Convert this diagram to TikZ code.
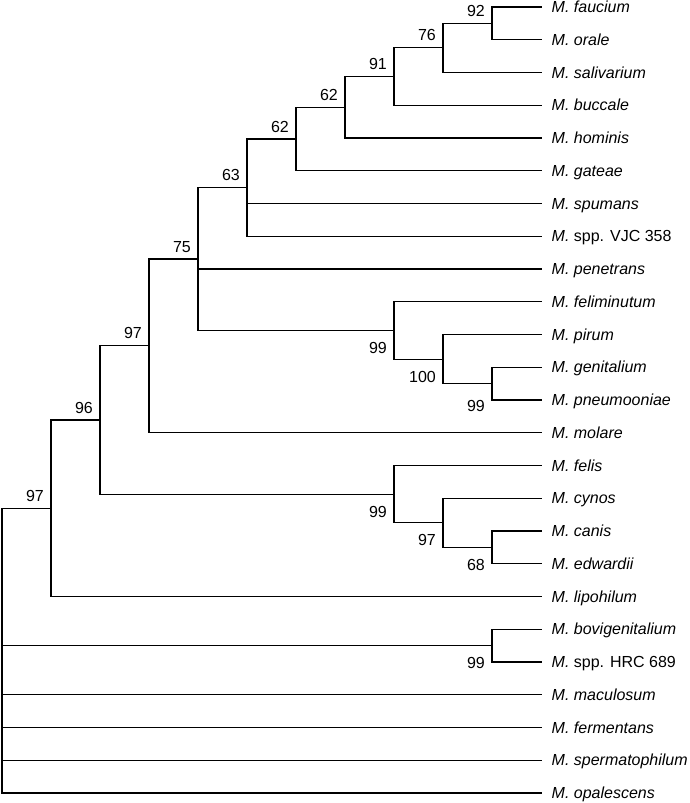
\documentclass[tikz,border=0pt]{standalone}
\usepackage{fontspec}
\setmainfont{Liberation Sans}
\begin{document}
\begin{tikzpicture}[x=1pt,y=-1pt,
  branch/.style={draw=black,line width=1.1pt,line cap=rect},
  leaflab/.style={anchor=base west,inner sep=0pt,xshift=10.5pt,yshift=-5.6pt,font=\fontsize{16}{19}\selectfont},
  supt/.style={anchor=base east,inner sep=0pt,xshift=-7pt,yshift=7pt,font=\fontsize{16}{19}\selectfont},
  subt/.style={anchor=base east,inner sep=0pt,xshift=-7pt,yshift=-23pt,font=\fontsize{16}{19}\selectfont}]
\useasboundingbox (0,0) rectangle (689,803);
% leaf ends
\coordinate (l0) at (541,7);
\coordinate (l1) at (541,39.75);
\coordinate (l2) at (541,72.5);
\coordinate (l3) at (541,105.25);
\coordinate (l4) at (541,138);
\coordinate (l5) at (541,170.75);
\coordinate (l6) at (541,203.5);
\coordinate (l7) at (541,236.25);
\coordinate (l8) at (541,269);
\coordinate (l9) at (541,301.75);
\coordinate (l10) at (541,334.5);
\coordinate (l11) at (541,367.25);
\coordinate (l12) at (541,400);
\coordinate (l13) at (541,432.75);
\coordinate (l14) at (541,465.5);
\coordinate (l15) at (541,498.25);
\coordinate (l16) at (541,531);
\coordinate (l17) at (541,563.75);
\coordinate (l18) at (541,596.5);
\coordinate (l19) at (541,629.25);
\coordinate (l20) at (541,662);
\coordinate (l21) at (541,694.75);
\coordinate (l22) at (541,727.5);
\coordinate (l23) at (541,760.25);
\coordinate (l24) at (541,793);
% leaf labels
\node[leaflab] (t0) at (l0) {\textit{M. faucium}};
\node[leaflab] (t1) at (l1) {\textit{M. orale}};
\node[leaflab] (t2) at (l2) {\textit{M. salivarium}};
\node[leaflab] (t3) at (l3) {\textit{M. buccale}};
\node[leaflab] (t4) at (l4) {\textit{M. hominis}};
\node[leaflab] (t5) at (l5) {\textit{M. gateae}};
\node[leaflab] (t6) at (l6) {\textit{M. spumans}};
\node[leaflab] (t7) at (l7) {\textit{M.} spp. VJC 358};
\node[leaflab] (t8) at (l8) {\textit{M. penetrans}};
\node[leaflab] (t9) at (l9) {\textit{M. feliminutum}};
\node[leaflab] (t10) at (l10) {\textit{M. pirum}};
\node[leaflab] (t11) at (l11) {\textit{M. genitalium}};
\node[leaflab] (t12) at (l12) {\textit{M. pneumooniae}};
\node[leaflab] (t13) at (l13) {\textit{M. molare}};
\node[leaflab] (t14) at (l14) {\textit{M. felis}};
\node[leaflab] (t15) at (l15) {\textit{M. cynos}};
\node[leaflab] (t16) at (l16) {\textit{M. canis}};
\node[leaflab] (t17) at (l17) {\textit{M. edwardii}};
\node[leaflab] (t18) at (l18) {\textit{M. lipohilum}};
\node[leaflab] (t19) at (l19) {\textit{M. bovigenitalium}};
\node[leaflab] (t20) at (l20) {\textit{M.} spp. HRC 689};
\node[leaflab] (t21) at (l21) {\textit{M. maculosum}};
\node[leaflab] (t22) at (l22) {\textit{M. fermentans}};
\node[leaflab] (t23) at (l23) {\textit{M. spermatophilum}};
\node[leaflab] (t24) at (l24) {\textit{M. opalescens}};
% internal nodes
\coordinate (N) at (492,23.375);
\coordinate (M) at (443,47.94);
\coordinate (L) at (394,76.59);
\coordinate (K) at (345,107.30);
\coordinate (J) at (296,139.02);
\coordinate (H) at (247,187.64);
\coordinate (P) at (492,383.63);
\coordinate (O) at (443,359.06);
\coordinate (I) at (394,330.41);
\coordinate (G) at (198,259.02);
\coordinate (E) at (149,345.89);
\coordinate (R) at (492,547.38);
\coordinate (Q) at (443,522.81);
\coordinate (F) at (394,494.16);
\coordinate (D) at (100,420.02);
\coordinate (B) at (51,508.26);
\coordinate (C) at (492,645.63);
\coordinate (A) at (2,650.6);
% connectors
\draw[branch] (N) |- (l0); \draw[branch] (N) |- (l1);
\draw[branch] (M) |- (N); \draw[branch] (M) |- (l2);
\draw[branch] (L) |- (M); \draw[branch] (L) |- (l3);
\draw[branch] (K) |- (L); \draw[branch] (K) |- (l4);
\draw[branch] (J) |- (K); \draw[branch] (J) |- (l5);
\draw[branch] (H) |- (J); \draw[branch] (H) |- (l6); \draw[branch] (H) |- (l7);
\draw[branch] (P) |- (l11); \draw[branch] (P) |- (l12);
\draw[branch] (O) |- (l10); \draw[branch] (O) |- (P);
\draw[branch] (I) |- (l9); \draw[branch] (I) |- (O);
\draw[branch] (G) |- (H); \draw[branch] (G) |- (l8); \draw[branch] (G) |- (I);
\draw[branch] (E) |- (G); \draw[branch] (E) |- (l13);
\draw[branch] (R) |- (l16); \draw[branch] (R) |- (l17);
\draw[branch] (Q) |- (l15); \draw[branch] (Q) |- (R);
\draw[branch] (F) |- (l14); \draw[branch] (F) |- (Q);
\draw[branch] (D) |- (E); \draw[branch] (D) |- (F);
\draw[branch] (B) |- (D); \draw[branch] (B) |- (l18);
\draw[branch] (C) |- (l19); \draw[branch] (C) |- (l20);
\draw[branch] (A) |- (B); \draw[branch] (A) |- (C);
\draw[branch] (A) |- (l21); \draw[branch] (A) |- (l22);
\draw[branch] (A) |- (l23); \draw[branch] (A) |- (l24);
% support values
\node[supt] (sN) at (N) {92};
\node[supt] (sM) at (M) {76};
\node[supt] (sL) at (L) {91};
\node[supt] (sK) at (K) {62};
\node[supt] (sJ) at (J) {62};
\node[supt] (sH) at (H) {63};
\node[supt] (sG) at (G) {75};
\node[supt] (sE) at (E) {97};
\node[supt] (sD) at (D) {96};
\node[supt] (sB) at (B) {97};
\node[subt] (sI) at (I) {99};
\node[subt] (sO) at (O) {100};
\node[subt,yshift=-5pt] (sP) at (P) {99};
\node[subt] (sF) at (F) {99};
\node[subt] (sQ) at (Q) {97};
\node[subt] (sR) at (R) {68};
\node[subt] (sC) at (C) {99};
\end{tikzpicture}
\end{document}
